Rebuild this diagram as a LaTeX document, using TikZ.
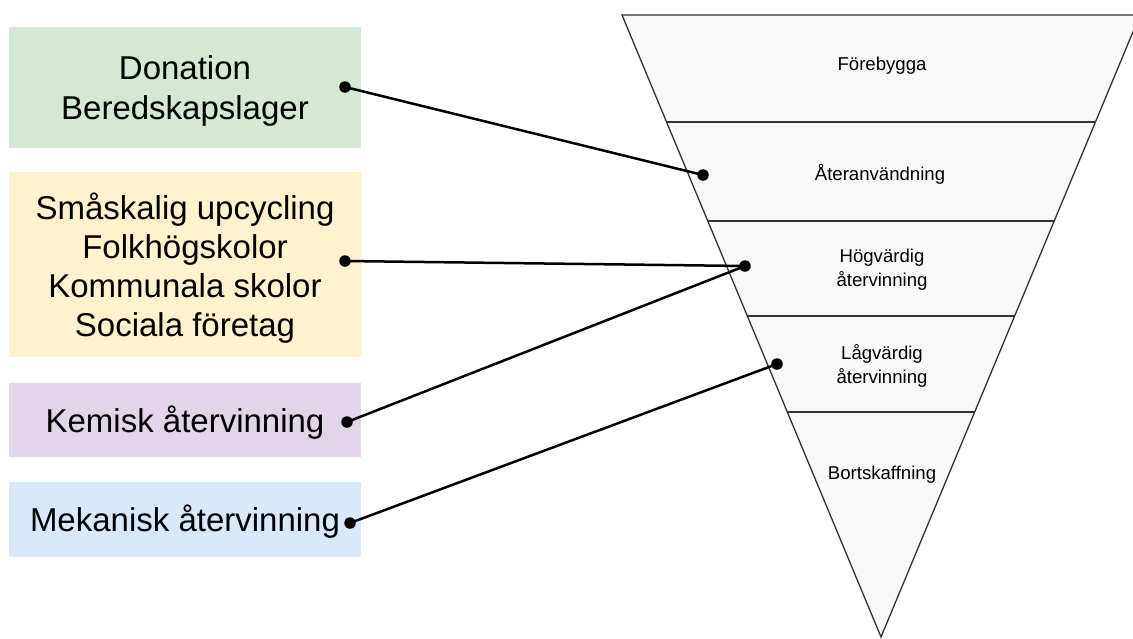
\documentclass[tikz,border=0pt]{standalone}
\usepackage{fontspec}
\setmainfont{Liberation Sans}
\definecolor{cgreen}{HTML}{D5E8D4}
\definecolor{cyellow}{HTML}{FFF2CC}
\definecolor{cpurple}{HTML}{E1D5E7}
\definecolor{cblue}{HTML}{DAE8FC}
\definecolor{ctri}{HTML}{F8F8F8}
\definecolor{cline}{HTML}{333333}
\begin{document}
\begin{tikzpicture}[x=1pt,y=-1pt,
  box/.style={draw=none,minimum width=352pt,inner sep=0pt},
  boxtext/.style={inner sep=0pt,align=center,font=\fontsize{33}{40}\selectfont},
  layer/.style={align=center,font=\fontsize{18.6}{24}\selectfont,inner sep=0pt},
  dot/.style={circle,fill=black,inner sep=0pt,minimum size=11.5pt},
  conn/.style={line width=2.5pt,black},
  tri/.style={fill=ctri,draw=cline,line width=1.3pt,line join=miter}]
\useasboundingbox (0,0) rectangle (1133,638);
% boxes
\node[box,fill=cgreen,minimum height=121pt] (don) at (185,87.5) {};
\node[box,fill=cyellow,minimum height=185pt] (sma) at (185,264.5) {};
\node[box,fill=cpurple,minimum height=74pt] (kem) at (185,420) {};
\node[box,fill=cblue,minimum height=75pt] (mek) at (185,519.5) {};
\node[boxtext] (tdon) at ([yshift=-3.5pt]don.center) {Donation\\Beredskapslager};
\node[boxtext,font=\fontsize{33}{39}\selectfont] (tsma) at ([yshift=-3.5pt]sma.center) {Småskalig upcycling\\Folkhögskolor\\Kommunala skolor\\Sociala företag};
\node[boxtext] (tkem) at ([yshift=-2.5pt]kem.center) {Kemisk återvinning};
\node[boxtext] (tmek) at ([yshift=-2.5pt]mek.center) {Mekanisk återvinning};
% triangle
\draw[tri] (622,15) -- (1140,15) -- (881,637) -- cycle;
\draw[draw=cline,line width=1.3pt] (666.6,122) -- (1095.4,122);
\draw[draw=cline,line width=1.3pt] (707.8,221) -- (1054.2,221);
\draw[draw=cline,line width=1.3pt] (747.3,316) -- (1014.7,316);
\draw[draw=cline,line width=1.3pt] (787.3,412) -- (974.7,412);
% layer labels
\node[layer] (l1) at (882,65.5) {Förebygga};
\node[layer] (l2) at (880,174.5) {Återanvändning};
\node[layer] (l3) at (882,270) {Högvärdig\\återvinning};
\node[layer] (l4) at (882,366) {Lågvärdig\\återvinning};
\node[layer] (l5) at (882,474.5) {Bortskaffning};
% dots
\node[dot] (d1) at (345,87) {};
\node[dot] (e1) at (703,175) {};
\node[dot] (d2) at (345,261) {};
\node[dot] (e2) at (745,266) {};
\node[dot] (d3) at (347,422) {};
\node[dot] (d4) at (350,523) {};
\node[dot] (e4) at (777,364) {};
% connectors
\draw[conn] (d1.center) -- (e1.center);
\draw[conn] (d2.center) -- (e2.center);
\draw[conn] (d3.center) -- (e2.center);
\draw[conn] (d4.center) -- (e4.center);
\end{tikzpicture}
\end{document}
